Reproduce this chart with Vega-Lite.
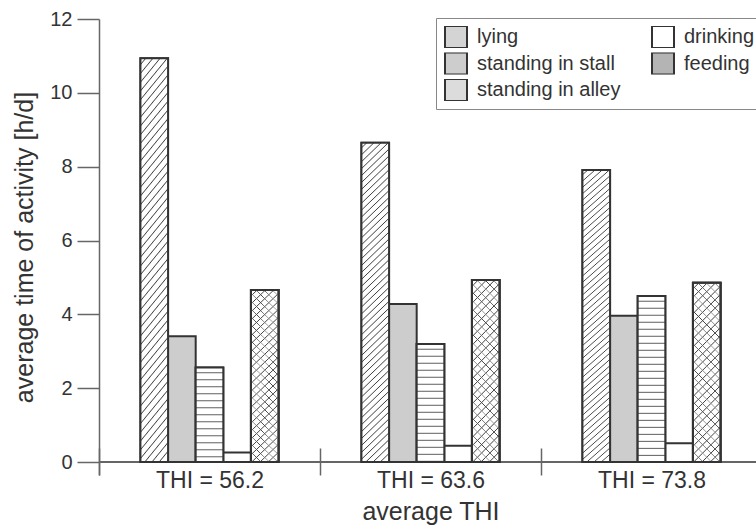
{
"$schema": "https://vega.github.io/schema/vega-lite/v6.json",
"autosize": {"type": "none"},
"padding": {"left": 99, "top": 19, "right": 0, "bottom": 52},
"width": 657,
"height": 456,
"config": {
 "font": "Liberation Sans",
 "view": {"stroke": null},
 "axis": {"grid": false, "labelColor": "#333", "titleColor": "#333", "titleFontWeight": "normal", "domainColor": "#666", "tickColor": "#666", "domainWidth": 1.5, "tickWidth": 1.5},
 "legend": {"orient": "none", "legendX": 337, "legendY": -1, "columns": 2, "symbolType": "square", "symbolSize": 484, "symbolStrokeColor": "#333", "symbolStrokeWidth": 2, "labelFontSize": 20, "labelColor": "#333", "labelOffset": 9, "labelLimit": 300, "clipHeight": 22, "rowPadding": 4.5, "columnPadding": 30, "padding": 8, "strokeColor": "#888", "fillColor": "#fff"}
},
"data": {"values": [
 {"group": "THI = 56.2", "activity": "lying", "hours": 10.94},
 {"group": "THI = 56.2", "activity": "standing in stall", "hours": 3.41},
 {"group": "THI = 56.2", "activity": "standing in alley", "hours": 2.56},
 {"group": "THI = 56.2", "activity": "drinking", "hours": 0.26},
 {"group": "THI = 56.2", "activity": "feeding", "hours": 4.66},
 {"group": "THI = 63.6", "activity": "lying", "hours": 8.65},
 {"group": "THI = 63.6", "activity": "standing in stall", "hours": 4.28},
 {"group": "THI = 63.6", "activity": "standing in alley", "hours": 3.2},
 {"group": "THI = 63.6", "activity": "drinking", "hours": 0.44},
 {"group": "THI = 63.6", "activity": "feeding", "hours": 4.93},
 {"group": "THI = 73.8", "activity": "lying", "hours": 7.91},
 {"group": "THI = 73.8", "activity": "standing in stall", "hours": 3.96},
 {"group": "THI = 73.8", "activity": "standing in alley", "hours": 4.5},
 {"group": "THI = 73.8", "activity": "drinking", "hours": 0.51},
 {"group": "THI = 73.8", "activity": "feeding", "hours": 4.86}
]},
"layer": [
 {"mark": {"type": "rule", "color": "#666", "strokeWidth": 1.5},
  "encoding": {"y": {"datum": 0, "type": "quantitative", "title": "average time of activity [h/d]"}}},
 {"encoding": {
   "x": {"field": "group", "type": "nominal", "title": "average THI",
         "scale": {"domain": ["THI = 56.2", "THI = 63.6", "THI = 73.8"], "range": [0, 663], "paddingInner": 0, "paddingOuter": 0},
         "axis": {"labelAngle": 0, "tickBand": "extent", "tickSize": 27, "offset": -27, "domain": false, "labelFontSize": 23, "labelPadding": -6, "titleFontSize": 25, "titlePadding": 7}},
   "xOffset": {"field": "activity", "type": "nominal",
         "scale": {"domain": ["pad-left", "lying", "standing in stall", "standing in alley", "drinking", "feeding", "pad-right"], "paddingInner": 0, "paddingOuter": 0.5}},
   "y": {"field": "hours", "type": "quantitative", "title": "average time of activity [h/d]",
         "scale": {"domain": [-0.35, 12], "nice": false},
         "axis": {"values": [0,1,2,3,4,5,6,7,8,9,10,11,12], "labelExpr": "datum.value % 2 === 0 ? datum.label : ''", "tickSize": 22, "labelPadding": 5, "labelFontSize": 20, "titleFontSize": 25, "titlePadding": 12,
                  "encode": {"ticks": {"update": {"x2": {"signal": "datum.value % 2 === 1 ? -11 : -22"}}}}}}
  },
  "layer": [
   {"mark": {"type": "bar", "stroke": "#333", "strokeWidth": 2},
    "encoding": {"fill": {"field": "activity", "type": "nominal", "title": null,
       "scale": {"domain": ["lying", "standing in stall", "standing in alley", "drinking", "feeding"], "range": ["#d4d4d4", "#cdcdcd", "#dcdcdc", "#ffffff", "#b4b4b4"]},
       "legend": {"encode": {"symbols": {"update": {
          "stroke": {"value": "#333"}, "strokeWidth": {"value": 2},
          "fill": {"signal": "datum.value === 'lying' ? {gradient: 'linear', x1: 0, y1: 0, x2: 1, y2: 1, stops: [{offset: 0, color: '#fff'}, {offset: 0.13, color: '#fff'}, {offset: 0.16, color: '#444'}, {offset: 0.19, color: '#fff'}, {offset: 0.33, color: '#fff'}, {offset: 0.36, color: '#444'}, {offset: 0.39, color: '#fff'}, {offset: 0.53, color: '#fff'}, {offset: 0.56, color: '#444'}, {offset: 0.59, color: '#fff'}, {offset: 0.73, color: '#fff'}, {offset: 0.76, color: '#444'}, {offset: 0.79, color: '#fff'}, {offset: 0.93, color: '#fff'}, {offset: 0.96, color: '#444'}, {offset: 0.99, color: '#fff'}]} : datum.value === 'standing in alley' ? {gradient: 'linear', x1: 0, y1: 0, x2: 0, y2: 1, stops: [{offset: 0, color: '#fff'}, {offset: 0.3, color: '#fff'}, {offset: 0.333, color: '#444'}, {offset: 0.366, color: '#fff'}, {offset: 0.633, color: '#fff'}, {offset: 0.666, color: '#444'}, {offset: 0.7, color: '#fff'}]} : scale('fill', datum.value)"}}}}}}}},
   {"transform": [{"filter": "datum.activity === 'lying'"}],
    "mark": {"type": "bar", "stroke": "#333", "strokeWidth": 2,
     "fill": {"gradient": "linear", "x1": 0, "y1": 0, "x2": 0.0897, "y2": 1.0759, "stops": [
{"offset":0,"color":"#fff"},
{"offset":0.012,"color":"#fff"},{"offset":0.015,"color":"#444"},{"offset":0.018,"color":"#fff"},
{"offset":0.032,"color":"#fff"},{"offset":0.035,"color":"#444"},{"offset":0.038,"color":"#fff"},
{"offset":0.052,"color":"#fff"},{"offset":0.055,"color":"#444"},{"offset":0.058,"color":"#fff"},
{"offset":0.072,"color":"#fff"},{"offset":0.075,"color":"#444"},{"offset":0.078,"color":"#fff"},
{"offset":0.092,"color":"#fff"},{"offset":0.095,"color":"#444"},{"offset":0.098,"color":"#fff"},
{"offset":0.112,"color":"#fff"},{"offset":0.115,"color":"#444"},{"offset":0.118,"color":"#fff"},
{"offset":0.132,"color":"#fff"},{"offset":0.135,"color":"#444"},{"offset":0.138,"color":"#fff"},
{"offset":0.152,"color":"#fff"},{"offset":0.155,"color":"#444"},{"offset":0.158,"color":"#fff"},
{"offset":0.172,"color":"#fff"},{"offset":0.175,"color":"#444"},{"offset":0.178,"color":"#fff"},
{"offset":0.192,"color":"#fff"},{"offset":0.195,"color":"#444"},{"offset":0.198,"color":"#fff"},
{"offset":0.212,"color":"#fff"},{"offset":0.215,"color":"#444"},{"offset":0.218,"color":"#fff"},
{"offset":0.232,"color":"#fff"},{"offset":0.235,"color":"#444"},{"offset":0.238,"color":"#fff"},
{"offset":0.252,"color":"#fff"},{"offset":0.255,"color":"#444"},{"offset":0.258,"color":"#fff"},
{"offset":0.272,"color":"#fff"},{"offset":0.275,"color":"#444"},{"offset":0.278,"color":"#fff"},
{"offset":0.292,"color":"#fff"},{"offset":0.295,"color":"#444"},{"offset":0.298,"color":"#fff"},
{"offset":0.312,"color":"#fff"},{"offset":0.315,"color":"#444"},{"offset":0.318,"color":"#fff"},
{"offset":0.332,"color":"#fff"},{"offset":0.335,"color":"#444"},{"offset":0.338,"color":"#fff"},
{"offset":0.352,"color":"#fff"},{"offset":0.355,"color":"#444"},{"offset":0.358,"color":"#fff"},
{"offset":0.372,"color":"#fff"},{"offset":0.375,"color":"#444"},{"offset":0.378,"color":"#fff"},
{"offset":0.392,"color":"#fff"},{"offset":0.395,"color":"#444"},{"offset":0.398,"color":"#fff"},
{"offset":0.412,"color":"#fff"},{"offset":0.415,"color":"#444"},{"offset":0.418,"color":"#fff"},
{"offset":0.432,"color":"#fff"},{"offset":0.435,"color":"#444"},{"offset":0.438,"color":"#fff"},
{"offset":0.452,"color":"#fff"},{"offset":0.455,"color":"#444"},{"offset":0.458,"color":"#fff"},
{"offset":0.472,"color":"#fff"},{"offset":0.475,"color":"#444"},{"offset":0.478,"color":"#fff"},
{"offset":0.492,"color":"#fff"},{"offset":0.495,"color":"#444"},{"offset":0.498,"color":"#fff"},
{"offset":0.512,"color":"#fff"},{"offset":0.515,"color":"#444"},{"offset":0.518,"color":"#fff"},
{"offset":0.532,"color":"#fff"},{"offset":0.535,"color":"#444"},{"offset":0.538,"color":"#fff"},
{"offset":0.552,"color":"#fff"},{"offset":0.555,"color":"#444"},{"offset":0.558,"color":"#fff"},
{"offset":0.572,"color":"#fff"},{"offset":0.575,"color":"#444"},{"offset":0.578,"color":"#fff"},
{"offset":0.592,"color":"#fff"},{"offset":0.595,"color":"#444"},{"offset":0.598,"color":"#fff"},
{"offset":0.612,"color":"#fff"},{"offset":0.615,"color":"#444"},{"offset":0.618,"color":"#fff"},
{"offset":0.632,"color":"#fff"},{"offset":0.635,"color":"#444"},{"offset":0.638,"color":"#fff"},
{"offset":0.652,"color":"#fff"},{"offset":0.655,"color":"#444"},{"offset":0.658,"color":"#fff"},
{"offset":0.672,"color":"#fff"},{"offset":0.675,"color":"#444"},{"offset":0.678,"color":"#fff"},
{"offset":0.692,"color":"#fff"},{"offset":0.695,"color":"#444"},{"offset":0.698,"color":"#fff"},
{"offset":0.712,"color":"#fff"},{"offset":0.715,"color":"#444"},{"offset":0.718,"color":"#fff"},
{"offset":0.732,"color":"#fff"},{"offset":0.735,"color":"#444"},{"offset":0.738,"color":"#fff"},
{"offset":0.752,"color":"#fff"},{"offset":0.755,"color":"#444"},{"offset":0.758,"color":"#fff"},
{"offset":0.772,"color":"#fff"},{"offset":0.775,"color":"#444"},{"offset":0.778,"color":"#fff"},
{"offset":0.792,"color":"#fff"},{"offset":0.795,"color":"#444"},{"offset":0.798,"color":"#fff"},
{"offset":0.812,"color":"#fff"},{"offset":0.815,"color":"#444"},{"offset":0.818,"color":"#fff"},
{"offset":0.832,"color":"#fff"},{"offset":0.835,"color":"#444"},{"offset":0.838,"color":"#fff"},
{"offset":0.852,"color":"#fff"},{"offset":0.855,"color":"#444"},{"offset":0.858,"color":"#fff"},
{"offset":0.872,"color":"#fff"},{"offset":0.875,"color":"#444"},{"offset":0.878,"color":"#fff"},
{"offset":0.892,"color":"#fff"},{"offset":0.895,"color":"#444"},{"offset":0.898,"color":"#fff"},
{"offset":0.912,"color":"#fff"},{"offset":0.915,"color":"#444"},{"offset":0.918,"color":"#fff"},
{"offset":0.932,"color":"#fff"},{"offset":0.935,"color":"#444"},{"offset":0.938,"color":"#fff"},
{"offset":0.952,"color":"#fff"},{"offset":0.955,"color":"#444"},{"offset":0.958,"color":"#fff"},
{"offset":0.972,"color":"#fff"},{"offset":0.975,"color":"#444"},{"offset":0.978,"color":"#fff"},
{"offset":0.992,"color":"#fff"},{"offset":0.995,"color":"#444"},{"offset":0.998,"color":"#fff"}
     ]}}},
   {"transform": [{"filter": "datum.activity === 'standing in alley'"}],
    "mark": {"type": "bar", "stroke": "#333", "strokeWidth": 2},
    "encoding": {"fill": {"condition": [
      {"test": "datum.group === 'THI = 56.2'", "value": {"gradient": "linear", "x1": 0, "y1": 0, "x2": 0, "y2": 1.852, "stops": [
{"offset":0,"color":"#fff"},
{"offset":0.025,"color":"#fff"},{"offset":0.03,"color":"#444"},{"offset":0.035,"color":"#fff"},
{"offset":0.065,"color":"#fff"},{"offset":0.07,"color":"#444"},{"offset":0.075,"color":"#fff"},
{"offset":0.105,"color":"#fff"},{"offset":0.11,"color":"#444"},{"offset":0.115,"color":"#fff"},
{"offset":0.145,"color":"#fff"},{"offset":0.15,"color":"#444"},{"offset":0.155,"color":"#fff"},
{"offset":0.185,"color":"#fff"},{"offset":0.19,"color":"#444"},{"offset":0.195,"color":"#fff"},
{"offset":0.225,"color":"#fff"},{"offset":0.23,"color":"#444"},{"offset":0.235,"color":"#fff"},
{"offset":0.265,"color":"#fff"},{"offset":0.27,"color":"#444"},{"offset":0.275,"color":"#fff"},
{"offset":0.305,"color":"#fff"},{"offset":0.31,"color":"#444"},{"offset":0.315,"color":"#fff"},
{"offset":0.345,"color":"#fff"},{"offset":0.35,"color":"#444"},{"offset":0.355,"color":"#fff"},
{"offset":0.385,"color":"#fff"},{"offset":0.39,"color":"#444"},{"offset":0.395,"color":"#fff"},
{"offset":0.425,"color":"#fff"},{"offset":0.43,"color":"#444"},{"offset":0.435,"color":"#fff"},
{"offset":0.465,"color":"#fff"},{"offset":0.47,"color":"#444"},{"offset":0.475,"color":"#fff"},
{"offset":0.505,"color":"#fff"},{"offset":0.51,"color":"#444"},{"offset":0.515,"color":"#fff"},
{"offset":0.545,"color":"#fff"},{"offset":0.55,"color":"#444"},{"offset":0.555,"color":"#fff"},
{"offset":0.585,"color":"#fff"},{"offset":0.59,"color":"#444"},{"offset":0.595,"color":"#fff"}
      ]}},
      {"test": "datum.group === 'THI = 63.6'", "value": {"gradient": "linear", "x1": 0, "y1": 0, "x2": 0, "y2": 1.482, "stops": [
{"offset":0,"color":"#fff"},
{"offset":0.025,"color":"#fff"},{"offset":0.03,"color":"#444"},{"offset":0.035,"color":"#fff"},
{"offset":0.065,"color":"#fff"},{"offset":0.07,"color":"#444"},{"offset":0.075,"color":"#fff"},
{"offset":0.105,"color":"#fff"},{"offset":0.11,"color":"#444"},{"offset":0.115,"color":"#fff"},
{"offset":0.145,"color":"#fff"},{"offset":0.15,"color":"#444"},{"offset":0.155,"color":"#fff"},
{"offset":0.185,"color":"#fff"},{"offset":0.19,"color":"#444"},{"offset":0.195,"color":"#fff"},
{"offset":0.225,"color":"#fff"},{"offset":0.23,"color":"#444"},{"offset":0.235,"color":"#fff"},
{"offset":0.265,"color":"#fff"},{"offset":0.27,"color":"#444"},{"offset":0.275,"color":"#fff"},
{"offset":0.305,"color":"#fff"},{"offset":0.31,"color":"#444"},{"offset":0.315,"color":"#fff"},
{"offset":0.345,"color":"#fff"},{"offset":0.35,"color":"#444"},{"offset":0.355,"color":"#fff"},
{"offset":0.385,"color":"#fff"},{"offset":0.39,"color":"#444"},{"offset":0.395,"color":"#fff"},
{"offset":0.425,"color":"#fff"},{"offset":0.43,"color":"#444"},{"offset":0.435,"color":"#fff"},
{"offset":0.465,"color":"#fff"},{"offset":0.47,"color":"#444"},{"offset":0.475,"color":"#fff"},
{"offset":0.505,"color":"#fff"},{"offset":0.51,"color":"#444"},{"offset":0.515,"color":"#fff"},
{"offset":0.545,"color":"#fff"},{"offset":0.55,"color":"#444"},{"offset":0.555,"color":"#fff"},
{"offset":0.585,"color":"#fff"},{"offset":0.59,"color":"#444"},{"offset":0.595,"color":"#fff"},
{"offset":0.625,"color":"#fff"},{"offset":0.63,"color":"#444"},{"offset":0.635,"color":"#fff"},
{"offset":0.665,"color":"#fff"},{"offset":0.67,"color":"#444"},{"offset":0.675,"color":"#fff"},
{"offset":0.705,"color":"#fff"},{"offset":0.71,"color":"#444"},{"offset":0.715,"color":"#fff"}
      ]}}],
      "value": {"gradient": "linear", "x1": 0, "y1": 0, "x2": 0, "y2": 1.054, "stops": [
{"offset":0,"color":"#fff"},
{"offset":0.025,"color":"#fff"},{"offset":0.03,"color":"#444"},{"offset":0.035,"color":"#fff"},
{"offset":0.065,"color":"#fff"},{"offset":0.07,"color":"#444"},{"offset":0.075,"color":"#fff"},
{"offset":0.105,"color":"#fff"},{"offset":0.11,"color":"#444"},{"offset":0.115,"color":"#fff"},
{"offset":0.145,"color":"#fff"},{"offset":0.15,"color":"#444"},{"offset":0.155,"color":"#fff"},
{"offset":0.185,"color":"#fff"},{"offset":0.19,"color":"#444"},{"offset":0.195,"color":"#fff"},
{"offset":0.225,"color":"#fff"},{"offset":0.23,"color":"#444"},{"offset":0.235,"color":"#fff"},
{"offset":0.265,"color":"#fff"},{"offset":0.27,"color":"#444"},{"offset":0.275,"color":"#fff"},
{"offset":0.305,"color":"#fff"},{"offset":0.31,"color":"#444"},{"offset":0.315,"color":"#fff"},
{"offset":0.345,"color":"#fff"},{"offset":0.35,"color":"#444"},{"offset":0.355,"color":"#fff"},
{"offset":0.385,"color":"#fff"},{"offset":0.39,"color":"#444"},{"offset":0.395,"color":"#fff"},
{"offset":0.425,"color":"#fff"},{"offset":0.43,"color":"#444"},{"offset":0.435,"color":"#fff"},
{"offset":0.465,"color":"#fff"},{"offset":0.47,"color":"#444"},{"offset":0.475,"color":"#fff"},
{"offset":0.505,"color":"#fff"},{"offset":0.51,"color":"#444"},{"offset":0.515,"color":"#fff"},
{"offset":0.545,"color":"#fff"},{"offset":0.55,"color":"#444"},{"offset":0.555,"color":"#fff"},
{"offset":0.585,"color":"#fff"},{"offset":0.59,"color":"#444"},{"offset":0.595,"color":"#fff"},
{"offset":0.625,"color":"#fff"},{"offset":0.63,"color":"#444"},{"offset":0.635,"color":"#fff"},
{"offset":0.665,"color":"#fff"},{"offset":0.67,"color":"#444"},{"offset":0.675,"color":"#fff"},
{"offset":0.705,"color":"#fff"},{"offset":0.71,"color":"#444"},{"offset":0.715,"color":"#fff"},
{"offset":0.745,"color":"#fff"},{"offset":0.75,"color":"#444"},{"offset":0.755,"color":"#fff"},
{"offset":0.785,"color":"#fff"},{"offset":0.79,"color":"#444"},{"offset":0.795,"color":"#fff"},
{"offset":0.825,"color":"#fff"},{"offset":0.83,"color":"#444"},{"offset":0.835,"color":"#fff"},
{"offset":0.865,"color":"#fff"},{"offset":0.87,"color":"#444"},{"offset":0.875,"color":"#fff"},
{"offset":0.905,"color":"#fff"},{"offset":0.91,"color":"#444"},{"offset":0.915,"color":"#fff"},
{"offset":0.945,"color":"#fff"},{"offset":0.95,"color":"#444"},{"offset":0.955,"color":"#fff"},
{"offset":0.985,"color":"#fff"},{"offset":0.99,"color":"#444"},{"offset":0.995,"color":"#fff"}
      ]}}}},
   {"transform": [{"filter": "datum.activity === 'feeding'"}],
    "mark": {"type": "bar", "stroke": "#333", "strokeWidth": 2,
     "fill": {"gradient": "linear", "x1": 0, "y1": 0, "x2": 0.1734, "y2": 1.1272, "stops": [
{"offset":0,"color":"#fff"},
{"offset":0.025,"color":"#fff"},{"offset":0.03,"color":"#444"},{"offset":0.035,"color":"#fff"},
{"offset":0.065,"color":"#fff"},{"offset":0.07,"color":"#444"},{"offset":0.075,"color":"#fff"},
{"offset":0.105,"color":"#fff"},{"offset":0.11,"color":"#444"},{"offset":0.115,"color":"#fff"},
{"offset":0.145,"color":"#fff"},{"offset":0.15,"color":"#444"},{"offset":0.155,"color":"#fff"},
{"offset":0.185,"color":"#fff"},{"offset":0.19,"color":"#444"},{"offset":0.195,"color":"#fff"},
{"offset":0.225,"color":"#fff"},{"offset":0.23,"color":"#444"},{"offset":0.235,"color":"#fff"},
{"offset":0.265,"color":"#fff"},{"offset":0.27,"color":"#444"},{"offset":0.275,"color":"#fff"},
{"offset":0.305,"color":"#fff"},{"offset":0.31,"color":"#444"},{"offset":0.315,"color":"#fff"},
{"offset":0.345,"color":"#fff"},{"offset":0.35,"color":"#444"},{"offset":0.355,"color":"#fff"},
{"offset":0.385,"color":"#fff"},{"offset":0.39,"color":"#444"},{"offset":0.395,"color":"#fff"},
{"offset":0.425,"color":"#fff"},{"offset":0.43,"color":"#444"},{"offset":0.435,"color":"#fff"},
{"offset":0.465,"color":"#fff"},{"offset":0.47,"color":"#444"},{"offset":0.475,"color":"#fff"},
{"offset":0.505,"color":"#fff"},{"offset":0.51,"color":"#444"},{"offset":0.515,"color":"#fff"},
{"offset":0.545,"color":"#fff"},{"offset":0.55,"color":"#444"},{"offset":0.555,"color":"#fff"},
{"offset":0.585,"color":"#fff"},{"offset":0.59,"color":"#444"},{"offset":0.595,"color":"#fff"},
{"offset":0.625,"color":"#fff"},{"offset":0.63,"color":"#444"},{"offset":0.635,"color":"#fff"},
{"offset":0.665,"color":"#fff"},{"offset":0.67,"color":"#444"},{"offset":0.675,"color":"#fff"},
{"offset":0.705,"color":"#fff"},{"offset":0.71,"color":"#444"},{"offset":0.715,"color":"#fff"},
{"offset":0.745,"color":"#fff"},{"offset":0.75,"color":"#444"},{"offset":0.755,"color":"#fff"},
{"offset":0.785,"color":"#fff"},{"offset":0.79,"color":"#444"},{"offset":0.795,"color":"#fff"},
{"offset":0.825,"color":"#fff"},{"offset":0.83,"color":"#444"},{"offset":0.835,"color":"#fff"},
{"offset":0.865,"color":"#fff"},{"offset":0.87,"color":"#444"},{"offset":0.875,"color":"#fff"},
{"offset":0.905,"color":"#fff"},{"offset":0.91,"color":"#444"},{"offset":0.915,"color":"#fff"},
{"offset":0.945,"color":"#fff"},{"offset":0.95,"color":"#444"},{"offset":0.955,"color":"#fff"},
{"offset":0.985,"color":"#fff"},{"offset":0.99,"color":"#444"},{"offset":0.995,"color":"#fff"}
     ]}}},
   {"transform": [{"filter": "datum.activity === 'feeding'"}],
    "mark": {"type": "bar", "stroke": "#333", "strokeWidth": 2,
     "fill": {"gradient": "linear", "x1": 1, "y1": 0, "x2": 0.8266, "y2": 1.1272, "stops": [
{"offset":0,"color":"rgba(255,255,255,0)"},
{"offset":0.025,"color":"rgba(255,255,255,0)"},{"offset":0.03,"color":"#444"},{"offset":0.035,"color":"rgba(255,255,255,0)"},
{"offset":0.065,"color":"rgba(255,255,255,0)"},{"offset":0.07,"color":"#444"},{"offset":0.075,"color":"rgba(255,255,255,0)"},
{"offset":0.105,"color":"rgba(255,255,255,0)"},{"offset":0.11,"color":"#444"},{"offset":0.115,"color":"rgba(255,255,255,0)"},
{"offset":0.145,"color":"rgba(255,255,255,0)"},{"offset":0.15,"color":"#444"},{"offset":0.155,"color":"rgba(255,255,255,0)"},
{"offset":0.185,"color":"rgba(255,255,255,0)"},{"offset":0.19,"color":"#444"},{"offset":0.195,"color":"rgba(255,255,255,0)"},
{"offset":0.225,"color":"rgba(255,255,255,0)"},{"offset":0.23,"color":"#444"},{"offset":0.235,"color":"rgba(255,255,255,0)"},
{"offset":0.265,"color":"rgba(255,255,255,0)"},{"offset":0.27,"color":"#444"},{"offset":0.275,"color":"rgba(255,255,255,0)"},
{"offset":0.305,"color":"rgba(255,255,255,0)"},{"offset":0.31,"color":"#444"},{"offset":0.315,"color":"rgba(255,255,255,0)"},
{"offset":0.345,"color":"rgba(255,255,255,0)"},{"offset":0.35,"color":"#444"},{"offset":0.355,"color":"rgba(255,255,255,0)"},
{"offset":0.385,"color":"rgba(255,255,255,0)"},{"offset":0.39,"color":"#444"},{"offset":0.395,"color":"rgba(255,255,255,0)"},
{"offset":0.425,"color":"rgba(255,255,255,0)"},{"offset":0.43,"color":"#444"},{"offset":0.435,"color":"rgba(255,255,255,0)"},
{"offset":0.465,"color":"rgba(255,255,255,0)"},{"offset":0.47,"color":"#444"},{"offset":0.475,"color":"rgba(255,255,255,0)"},
{"offset":0.505,"color":"rgba(255,255,255,0)"},{"offset":0.51,"color":"#444"},{"offset":0.515,"color":"rgba(255,255,255,0)"},
{"offset":0.545,"color":"rgba(255,255,255,0)"},{"offset":0.55,"color":"#444"},{"offset":0.555,"color":"rgba(255,255,255,0)"},
{"offset":0.585,"color":"rgba(255,255,255,0)"},{"offset":0.59,"color":"#444"},{"offset":0.595,"color":"rgba(255,255,255,0)"},
{"offset":0.625,"color":"rgba(255,255,255,0)"},{"offset":0.63,"color":"#444"},{"offset":0.635,"color":"rgba(255,255,255,0)"},
{"offset":0.665,"color":"rgba(255,255,255,0)"},{"offset":0.67,"color":"#444"},{"offset":0.675,"color":"rgba(255,255,255,0)"},
{"offset":0.705,"color":"rgba(255,255,255,0)"},{"offset":0.71,"color":"#444"},{"offset":0.715,"color":"rgba(255,255,255,0)"},
{"offset":0.745,"color":"rgba(255,255,255,0)"},{"offset":0.75,"color":"#444"},{"offset":0.755,"color":"rgba(255,255,255,0)"},
{"offset":0.785,"color":"rgba(255,255,255,0)"},{"offset":0.79,"color":"#444"},{"offset":0.795,"color":"rgba(255,255,255,0)"},
{"offset":0.825,"color":"rgba(255,255,255,0)"},{"offset":0.83,"color":"#444"},{"offset":0.835,"color":"rgba(255,255,255,0)"},
{"offset":0.865,"color":"rgba(255,255,255,0)"},{"offset":0.87,"color":"#444"},{"offset":0.875,"color":"rgba(255,255,255,0)"},
{"offset":0.905,"color":"rgba(255,255,255,0)"},{"offset":0.91,"color":"#444"},{"offset":0.915,"color":"rgba(255,255,255,0)"},
{"offset":0.945,"color":"rgba(255,255,255,0)"},{"offset":0.95,"color":"#444"},{"offset":0.955,"color":"rgba(255,255,255,0)"},
{"offset":0.985,"color":"rgba(255,255,255,0)"},{"offset":0.99,"color":"#444"},{"offset":0.995,"color":"rgba(255,255,255,0)"}
     ]}}}
  ]}
]
}
